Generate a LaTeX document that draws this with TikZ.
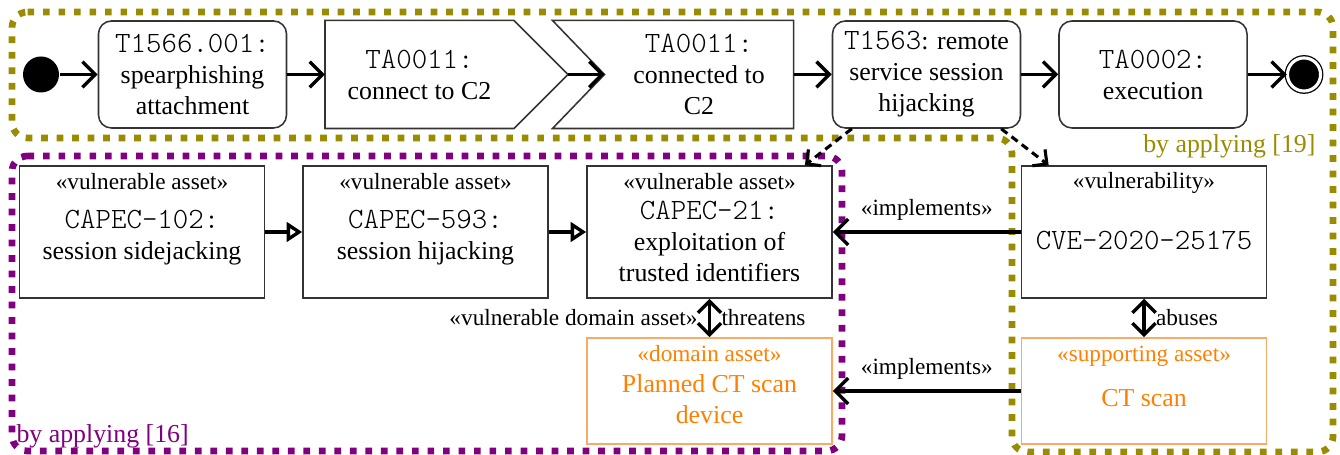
\documentclass[tikz,border=0pt]{standalone}
\usepackage{fontspec}
\setmainfont{Liberation Serif}
\setmonofont{lmmonolt10-regular.otf}[Scale=1.14]
\usetikzlibrary{arrows.meta,calc,positioning}

\newcommand{\pxl}{0.387pt}
\definecolor{oliveapply}{RGB}{153,140,0}
\definecolor{purpleapply}{RGB}{128,0,128}
\definecolor{domainorange}{RGB}{255,128,0}
\definecolor{domainedge}{RGB}{250,170,100}

\tikzset{
  stepbox/.style={draw=black!80, line width=0.6pt, rounded corners=5pt, align=center,
    minimum width=188*\pxl, minimum height=107*\pxl, inner sep=0pt},
  eventbox/.style={align=center, minimum width=188*\pxl, minimum height=107*\pxl, inner sep=0pt},
  eventline/.style={draw=black!80, line width=0.6pt},
  assetbox/.style={draw=black!80, line width=0.6pt, minimum width=245*\pxl, minimum height=132*\pxl, inner sep=0pt},
  domainbox/.style={draw=domainedge, line width=0.6pt, minimum width=245*\pxl, minimum height=106*\pxl, inner sep=0pt},
  stereo/.style={font=\small, anchor=base, inner sep=0pt},
  assettext/.style={align=center, inner sep=0pt},
  rellabel/.style={font=\small, inner sep=4pt},
  flow/.style={line width=1.3pt, -{Straight Barb[length=5pt,width=10pt]}},
  refines/.style={line width=1.3pt, -{Triangle[open,length=6pt,width=7.5pt]}},
  relates/.style={line width=1.3pt, {Straight Barb[length=4.5pt,width=9pt]}-{Straight Barb[length=4.5pt,width=9pt]}},
  appliesto/.style={line width=1.2pt, dash pattern=on 3pt off 2pt, -{Straight Barb[length=4pt,width=8pt]}},
  applyframe/.style={line width=2.6pt, dash pattern=on 2.6pt off 3.4pt, rounded corners=6pt},
}

\begin{document}
\begin{tikzpicture}[x=\pxl, y=-\pxl]
\useasboundingbox (0,0) rectangle (1340,455);

% groups of the two methods
\draw[applyframe, oliveapply] (12,12) -- (1333,12) -- (1333,452) -- (1012,452) -- (1012,138) -- (12,138) -- cycle;
\draw[applyframe, purpleapply] (12,156) -- (842,156) -- (842,451) -- (12,451) -- cycle;
\node[oliveapply, anchor=east, inner sep=0pt] (ref19) at (1316,146) {by applying [19]};
\node[purpleapply, anchor=base west, inner sep=0pt] (ref16) at (16,443) {by applying [16]};

% attack steps
\node[circle, fill, minimum size=36*\pxl, inner sep=0pt] (start) at (41,74.5) {};
\node[stepbox] (spear) at (192.5,74.5) {\texttt{T1566.001:}\\spearphishing\\attachment};
\node[eventbox] (conn) at (419.5,74.5) {\texttt{TA0011:}\\connect to C2};
\draw[eventline] (conn.north west) -- (conn.north east) -- ($(conn.east)+(54,0)$) coordinate (conntip)
  -- (conn.south east) -- (conn.south west) -- cycle;
\node[eventbox] (conned) at (699,74.5) {\texttt{TA0011:}\\connected to\\C2};
\draw[eventline] (conned.north east) -- ($(conned.north west)+(-52,0)$) -- (conned.west)
  -- ($(conned.south west)+(-52,0)$) -- (conned.south east) -- cycle;
\node[stepbox] (hijack) at (926.5,74.5) {\texttt{T1563}: remote\\service session\\hijacking};
\node[stepbox] (exec) at (1153,74.5) {\texttt{TA0002:}\\execution};
\node[circle, fill, draw, line width=0.5pt, double=white, double distance=1.2pt,
  minimum size=12.8pt, inner sep=0pt] (stop) at (1304,74.5) {};

\draw[flow] (start) -- (spear);
\draw[flow] (spear) -- (conn);
\draw[flow] (conntip) -- (conned.west);
\draw[flow] (conned) -- (hijack);
\draw[flow] (hijack) -- (exec);
\draw[flow] (exec) -- (stop);

% assets
\node[assetbox] (cap102) at (142,232) {};
\node[assetbox] (cap593) at (425.5,232) {};
\node[assetbox] (cap21) at (709.5,232) {};
\node[assetbox] (cve) at (1144,232) {};
\node[domainbox] (planned) at (709.5,391) {};
\node[domainbox] (ctscan) at (1144,391) {};

\node[stereo] (st102) at ($(cap102.north)+(0,24)$) {«vulnerable asset»};
\node[stereo] (st593) at ($(cap593.north)+(0,24)$) {«vulnerable asset»};
\node[stereo] (st21) at ($(cap21.north)+(0,24)$) {«vulnerable asset»};
\node[stereo] (stcve) at ($(cve.north)+(0,23)$) {«vulnerability»};
\node[stereo, domainorange] (stplanned) at ($(planned.north)+(0,24)$) {«domain asset»};
\node[stereo, domainorange] (stct) at ($(ctscan.north)+(0,24)$) {«supporting asset»};

\node[assettext] (tx102) at (142,238) {\texttt{CAPEC-102:}\\session sidejacking};
\node[assettext] (tx593) at (425.5,238) {\texttt{CAPEC-593:}\\session hijacking};
\node[assettext] (tx21) at (709.5,241) {\texttt{CAPEC-21:}\\exploitation of\\trusted identifiers};
\node[assettext] (txcve) at (1144,240) {\texttt{CVE-2020-25175}};
\node[assettext, domainorange] (txplanned) at (709.5,399) {Planned CT scan\\device};
\node[assettext, domainorange] (txct) at (1144,398) {CT scan};

\draw[refines] (cap102) -- (cap593);
\draw[refines] (cap593) -- (cap21);
\draw[flow] (cve) -- node[rellabel, above] (impl1) {«implements»} (cap21);
\draw[flow] (ctscan) -- node[rellabel, above] (impl2) {«implements»} (planned);
\draw[relates] (cap21) -- node[rellabel, left] (vda) {«vulnerable domain asset»}
  node[rellabel, right] (thr) {threatens} (planned);
\draw[relates] (cve) -- node[rellabel, right] (abu) {abuses} (ctscan);

\draw[appliesto] (hijack.-144) -- (cap21.35);
\draw[appliesto] (hijack.-36) -- (cve.145);
\end{tikzpicture}
\end{document}
